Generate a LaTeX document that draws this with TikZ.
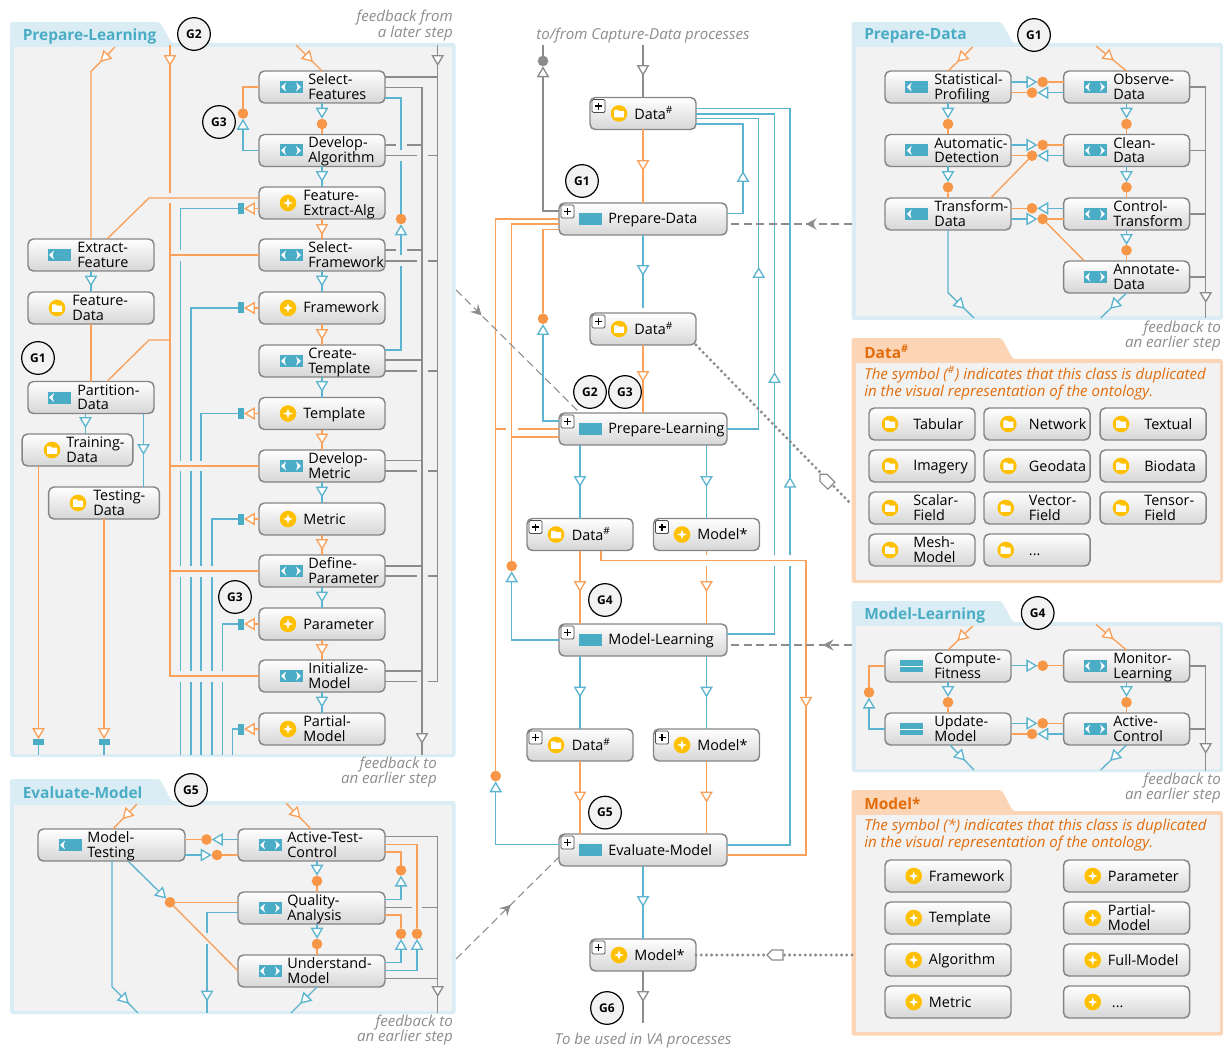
\documentclass[tikz,border=0pt]{standalone}
\usepackage{fontspec}
\setmainfont{Open Sans}
\usetikzlibrary{arrows.meta,decorations.markings}

\definecolor{flowblue}{HTML}{5CB4CE}
\definecolor{iconblue}{HTML}{4BACC6}
\definecolor{floworange}{HTML}{F9A05A}
\definecolor{dotorange}{HTML}{F79646}
\definecolor{flowgray}{HTML}{8C8C8C}
\definecolor{boxedge}{HTML}{858585}
\definecolor{boxlow}{HTML}{D6D6D6}
\definecolor{panelfill}{HTML}{F2F2F2}
\definecolor{edgeblue}{HTML}{DAEDF4}
\definecolor{edgeorange}{HTML}{FBD5B5}
\definecolor{titleorange}{HTML}{E36C0A}
\definecolor{iconyellow}{HTML}{FFC000}

\tikzset{
  tipmark/.tip={Triangle[length=8.2pt,width=9.4pt,fill=white]},
  barbmark/.tip={Stealth[length=8pt,width=8.5pt,inset=3pt]},
  blueflow/.style={draw=flowblue,line width=1pt},
  oranflow/.style={draw=floworange,line width=1pt},
  grayflow/.style={draw=flowgray,line width=1pt},
  dashflow/.style={draw=flowgray,line width=1pt,dash pattern=on 6pt off 3.4pt},
  dotflow/.style={draw=flowgray,line width=2.5pt,line cap=round,dash pattern=on 0pt off 3.9pt},
  headat/.style={postaction={decorate,decoration={markings,
    mark=at position #1*0.75pt with {\arrow{tipmark}}}}},
  barbat/.style={postaction={decorate,decoration={markings,
    mark=at position #1*0.75pt with {\arrow[line width=1pt]{barbmark}}}}},
  taskbox/.style={draw=boxedge,line width=1.1pt,rounded corners=4pt,top color=white,
    bottom color=boxlow,minimum width=94.5pt,minimum height=24pt,inner sep=0pt,outer sep=0pt},
  widebox/.style={taskbox,minimum width=110.25pt},
  shortbox/.style={taskbox,minimum width=83pt},
  databox/.style={taskbox,minimum width=79.5pt},
  hubbox/.style={taskbox,minimum width=126pt},
  tasktext/.style={anchor=west,align=left,inner sep=0pt,font=\fontsize{10.8pt}{11.2pt}\selectfont},
  notetext/.style={anchor=east,align=right,inner sep=0pt,text=flowgray,
    font=\fontsize{11.3pt}{11.6pt}\selectfont\itshape},
  paneltitle/.style={anchor=west,inner sep=0pt,font=\fontsize{11.6pt}{13pt}\selectfont\bfseries},
  symboltext/.style={anchor=west,align=left,inner sep=0pt,text=titleorange,
    font=\fontsize{11.3pt}{12.6pt}\selectfont\itshape},
  gmark/.style={circle,draw=black,line width=0.9pt,fill=panelfill,minimum size=24.5pt,
    inner sep=0pt,font=\fontsize{9pt}{10pt}\selectfont\bfseries},
  dotor/.style={circle,fill=dotorange,minimum size=8pt,inner sep=0pt,outer sep=0pt},
  dotgy/.style={circle,fill=flowgray,minimum size=8pt,inner sep=0pt,outer sep=0pt},
  sqtall/.style={fill=iconblue,minimum width=4.5pt,minimum height=8.25pt,inner sep=0pt,outer sep=0pt},
  sqflat/.style={fill=iconblue,minimum width=8.25pt,minimum height=4.5pt,inner sep=0pt,outer sep=0pt},
  eyeicon/.pic={
    \fill[iconblue] (-11.5,-6) rectangle (11.5,6);
    \fill[white] (-10,0) -- (-5,-4.5) -- (-6.5,0) -- (-5,4.5) -- cycle;
    \fill[white] (10,0) -- (5,-4.5) -- (6.5,0) -- (5,4.5) -- cycle;
  },
  chevicon/.pic={
    \fill[iconblue] (-11.5,-6) rectangle (11.5,6);
    \fill[white] (-10,0) -- (-5,-4.5) -- (-6.5,0) -- (-5,4.5) -- cycle;
  },
  baricon/.pic={
    \fill[iconblue] (-11.5,-6) rectangle (11.5,6);
    \draw[white,line width=0.6pt] (-11.5,0) -- (11.5,0);
  },
  plainicon/.pic={
    \fill[iconblue] (-11.5,-6) rectangle (11.5,6);
  },
  dataicon/.pic={
    \fill[iconyellow] (0,0) circle (8.3);
    \fill[white] (-5,-3.6) -- (-1.2,-3.6) -- (0,-2.4) -- (5,-2.4) -- (5,3.8) -- (-5,3.8) -- cycle;
  },
  modelicon/.pic={
    \fill[iconyellow] (0,0) circle (8.3);
    \fill[white] (0,-4.8) -- (1.2,-1.2) -- (4.8,0) -- (1.2,1.2) -- (0,4.8) -- (-1.2,1.2) -- (-4.8,0) -- (-1.2,-1.2) -- cycle;
  },
  plusmark/.pic={
    \draw[draw=black!70,fill=white,line width=0.6pt,rounded corners=1pt] (-6.5,-6.5) rectangle (6.5,6.5);
    \draw[black,line width=0.9pt] (-3.5,0) -- (3.5,0) (0,-3.5) -- (0,3.5);
  },
  tagmark/.pic={
    \draw[draw=flowgray,fill=white,line width=0.9pt] (-8,0) -- (-3,-5) -- (8,-5) -- (8,5) -- (-3,5) -- cycle;
  },
}

\newcommand{\panelbox}[9]{
  \fill[#1,rounded corners=2pt] (#3,#4) -- (#3+150,#4) -- (#3+161.5,#5) -- (#6,#5) -- (#6,#7) -- (#3,#7) -- cycle;
  \fill[panelfill] (#3+4,#5+4) rectangle (#6-3.5,#7-3.5);
  \node[paneltitle,text=#2] (#8) at (#3+12.5,#4+14) {#9};
}
\newcommand{\taskat}[8]{
  \node[#1] (#2) at (#3,#4) {};
  \pic at (#6,#4) {#5};
  \node[tasktext] (#2-text) at (#7,#4+1) {\rule{0pt}{8.5pt}#8\rule[-2.5pt]{0pt}{2.5pt}};
}
\newcommand{\hubat}[8]{
  \taskat{#1}{#2}{#3}{#4}{#5}{#6}{#7}{#8}
  \pic at ([xshift=6.4pt,yshift=-6.4pt]#2.north west) {plusmark};
}
\newcommand{\sidelink}[5]{
  \node[dotor] (#1) at (#2,#3) {};
  \draw[blueflow,-{tipmark}] (#4 |- #1) -- (#1);
  \draw[oranflow] (#1) -- (#5 |- #1);
}
\newcommand{\downlink}[5]{
  \node[dotor] (#1) at (#2,#3) {};
  \draw[blueflow,-{tipmark}] (#4.south -| #1) -- (#1);
  \draw[oranflow] (#1) -- (#5.north -| #1);
}

\begin{document}
\begin{tikzpicture}[x=0.75pt,y=-0.75pt]
  \useasboundingbox (0,0) rectangle (1223,1048);

  \panelbox{edgeblue}{iconblue}{10}{22}{43}{455.6}{757}{pltitle}{Prepare-Learning}
  \panelbox{edgeblue}{iconblue}{10}{779}{801}{455.6}{1014}{emtitle}{Evaluate-Model}
  \panelbox{edgeblue}{iconblue}{851.5}{22}{43}{1223}{320}{pdtitle}{Prepare-Data}
  \panelbox{edgeblue}{iconblue}{851.5}{601}{622}{1223}{772}{mltitle}{Model-Learning}
  \panelbox{edgeorange}{titleorange}{851.5}{338}{359}{1223}{583}{dttitle}{Data\textsuperscript{\#}}
  \panelbox{edgeorange}{titleorange}{851.5}{790}{811}{1223}{1035.7}{mdtitle}{Model*}

  \taskat{taskbox}{sf}{322}{87}{eyeicon}{291}{308}{Select-\\Features}
  \taskat{taskbox}{da}{322}{150.5}{eyeicon}{291}{308}{Develop-\\Algorithm}
  \taskat{taskbox}{fea}{322}{203}{modelicon}{288}{303}{Feature-\\Extract-Alg}
  \taskat{taskbox}{sfw}{322}{255}{eyeicon}{291}{308}{Select-\\Framework}
  \taskat{taskbox}{fw}{322}{308}{modelicon}{288}{303}{Framework}
  \taskat{taskbox}{ct}{322}{361}{eyeicon}{291}{308}{Create-\\Template}
  \taskat{taskbox}{tpl}{322}{413.5}{modelicon}{288}{303}{Template}
  \taskat{taskbox}{dm}{322}{466}{eyeicon}{291}{308}{Develop-\\Metric}
  \taskat{taskbox}{met}{322}{519}{modelicon}{288}{303}{Metric}
  \taskat{taskbox}{dp}{322}{571}{eyeicon}{291}{308}{Define-\\Parameter}
  \taskat{taskbox}{par}{322}{624}{modelicon}{288}{303}{Parameter}
  \taskat{taskbox}{im}{322}{676}{eyeicon}{291}{308}{Initialize-\\Model}
  \taskat{taskbox}{pm}{322}{729}{modelicon}{288}{303}{Partial-\\Model}
  \taskat{taskbox}{ef}{91}{255}{chevicon}{59}{77}{Extract-\\Feature}
  \taskat{taskbox}{fd}{91}{308}{dataicon}{57}{72}{Feature-\\Data}
  \taskat{taskbox}{pard}{91}{397.5}{chevicon}{59}{77}{Partition-\\Data}
  \taskat{shortbox}{trd}{77.5}{450}{dataicon}{52}{66}{Training-\\Data}
  \taskat{shortbox}{ted}{104}{503}{dataicon}{78}{93}{Testing-\\Data}

  \taskat{widebox}{mt}{111.5}{845}{chevicon}{70}{87}{Model-\\Testing}
  \taskat{widebox}{atc}{311.5}{845}{eyeicon}{270}{287}{Active-Test-\\Control}
  \taskat{widebox}{qa}{311.5}{908}{eyeicon}{270}{287}{Quality-\\Analysis}
  \taskat{widebox}{um}{311.5}{971}{eyeicon}{270}{287}{Understand-\\Model}

  \hubat{databox}{cd}{643}{113.5}{dataicon}{619}{634}{Data\textsuperscript{\#}}
  \hubat{hubbox}{hpd}{643}{219}{plainicon}{590.7}{608}{Prepare-Data}
  \hubat{databox}{cdm}{643}{329}{dataicon}{619}{634}{Data\textsuperscript{\#}}
  \hubat{hubbox}{hpl}{643}{429}{plainicon}{590.7}{608}{Prepare-Learning}
  \hubat{databox}{cdl}{580}{534.5}{dataicon}{556}{571.5}{Data\textsuperscript{\#}}
  \hubat{databox}{cml}{706.5}{534.5}{modelicon}{682}{697}{Model*}
  \hubat{hubbox}{hml}{643}{640}{plainicon}{590.7}{608}{Model-Learning}
  \hubat{databox}{cdt}{580}{745}{dataicon}{556}{571.5}{Data\textsuperscript{\#}}
  \hubat{databox}{cmt}{706.5}{745}{modelicon}{682}{697}{Model*}
  \hubat{hubbox}{hem}{643}{850}{plainicon}{590.7}{608}{Evaluate-Model}
  \hubat{databox}{cmf}{643}{955}{modelicon}{619}{634}{Model*}

  \taskat{taskbox}{spf}{948}{87}{chevicon}{916.7}{934}{Statistical-\\Profiling}
  \taskat{taskbox}{adt}{948}{150.5}{chevicon}{916.7}{934}{Automatic-\\Detection}
  \taskat{taskbox}{tfd}{948}{214}{chevicon}{916.7}{934}{Transform-\\Data}
  \taskat{taskbox}{odd}{1126.5}{87}{eyeicon}{1095}{1113}{Observe-\\Data}
  \taskat{taskbox}{cld}{1126.5}{150.5}{eyeicon}{1095}{1113}{Clean-\\Data}
  \taskat{taskbox}{ctl}{1126.5}{214}{eyeicon}{1095}{1113}{Control-\\Transform}
  \taskat{taskbox}{ann}{1126.5}{277}{eyeicon}{1095}{1113}{Annotate-\\Data}

  \taskat{taskbox}{cf}{948}{666}{baricon}{911}{934}{Compute-\\Fitness}
  \taskat{taskbox}{upd}{948}{729}{baricon}{911}{934}{Update-\\Model}
  \taskat{taskbox}{mol}{1126.5}{666}{eyeicon}{1095}{1113}{Monitor-\\Learning}
  \taskat{taskbox}{acl}{1126.5}{729}{eyeicon}{1095}{1113}{Active-\\Control}

  \taskat{databox}{dtab}{922}{424}{dataicon}{890}{913}{Tabular}
  \taskat{databox}{dnet}{1037}{424}{dataicon}{1008.3}{1028.7}{Network}
  \taskat{databox}{dtex}{1153}{424}{dataicon}{1121}{1144}{Textual}
  \taskat{databox}{dima}{922}{466}{dataicon}{890}{913}{Imagery}
  \taskat{databox}{dgeo}{1037}{466}{dataicon}{1008.3}{1028.7}{Geodata}
  \taskat{databox}{dbio}{1153}{466}{dataicon}{1121}{1144}{Biodata}
  \taskat{databox}{dsca}{922}{508}{dataicon}{890}{913}{Scalar-\\Field}
  \taskat{databox}{dvec}{1037}{508}{dataicon}{1005.7}{1028.7}{Vector-\\Field}
  \taskat{databox}{dten}{1153}{508}{dataicon}{1121}{1144}{Tensor-\\Field}
  \taskat{databox}{dmes}{922}{550}{dataicon}{890}{913}{Mesh-\\Model}
  \taskat{databox}{dmore}{1037}{550}{dataicon}{1005.7}{1028.7}{...}

  \taskat{taskbox}{mfra}{948}{876}{modelicon}{913.7}{928.7}{Framework}
  \taskat{taskbox}{mtem}{948}{918}{modelicon}{913.7}{928.7}{Template}
  \taskat{taskbox}{malg}{948}{960}{modelicon}{913.7}{928.7}{Algorithm}
  \taskat{taskbox}{mmet}{948}{1002}{modelicon}{913.7}{928.7}{Metric}
  \taskat{taskbox}{mpar}{1126.5}{876}{modelicon}{1092.7}{1107.7}{Parameter}
  \taskat{taskbox}{mpmo}{1126.5}{918}{modelicon}{1092.7}{1107.7}{Partial-\\Model}
  \taskat{taskbox}{mful}{1126.5}{960}{modelicon}{1092.7}{1107.7}{Full-Model}
  \taskat{taskbox}{mmore}{1126.5}{1002}{modelicon}{1092.7}{1111.7}{...}

  \node[symboltext] (dtnote) at (864,383) {The symbol (\textsuperscript{\#}) indicates that this class is duplicated\\in the visual representation of the ontology.};
  \node[symboltext] (mdnote) at (864,835) {The symbol (*) indicates that this class is duplicated\\in the visual representation of the ontology.};
  \node[notetext] (fbfrom) at (453,25.5) {feedback from\\a later step};
  \node[notetext] (fbpl) at (437,772) {feedback to\\an earlier step};
  \node[notetext] (fbem) at (453,1030) {feedback to\\an earlier step};
  \node[notetext] (fbpd) at (1221,336) {feedback to\\an earlier step};
  \node[notetext] (fbml) at (1221,788) {feedback to\\an earlier step};
  \node[notetext,anchor=center,align=center] (capnote) at (643,35.5) {to/from Capture-Data processes};
  \node[notetext,anchor=center,align=center] (vanote) at (643,1040.5) {To be used in VA processes};

  \coordinate (plinl) at (115,47);
  \coordinate (plinr) at (296,45);
  \coordinate (pltrunk) at (170,45);
  \coordinate (plfb) at (437.7,45);
  \coordinate (plout) at (422,755);
  \draw[oranflow,headat=21] (plinl) -- (ef.north |- 0,71.5) -- (ef.north);
  \draw[oranflow,headat=24] (plinr) -- (sf.north);
  \draw[oranflow,headat=21] (pltrunk) -- (170,193);
  \draw[oranflow] (170,203) |- (im.west);
  \draw[oranflow] (sfw.west -| pltrunk) -- (sfw.west);
  \draw[oranflow] (dm.west -| pltrunk) -- (dm.west);
  \draw[oranflow] (dp.west -| pltrunk) -- (dp.west);
  \draw[oranflow] (fea.west |- 0,198) -- (149,198) -- (ef.north -| 107,0);
  \draw[oranflow] (pard.north -| 107,0) -- (149,340) -- (pltrunk |- 0,340);
  \draw[oranflow] (fd.south) -- (fd.south |- pard.north);
  \draw[blueflow,headat=15.5] (ef.south) -- (fd.north);
  \draw[blueflow,headat=14.5] (pard.south -| 85.5,0) -- (trd.north -| 85.5,0);
  \draw[blueflow,headat=41.5] (pard.south -| 143.5,0) -- (ted.north -| 143.5,0);

  \node[sqflat] (trq) at (38.5,742) {};
  \node[sqflat] (teq) at (104,742) {};
  \draw[oranflow,-{tipmark}] (trd.south -| trq) -- (trq);
  \draw[oranflow,-{tipmark}] (ted.south -| teq) -- (teq);
  \draw[blueflow] (trq) -- (38.5,755);
  \draw[blueflow] (teq) -- (104,755);

  \node[dotor] (sfdot) at (243,113.5) {};
  \draw[blueflow,-{tipmark}] (da.west) -| (sfdot);
  \draw[oranflow] (sfdot) |- (sf.west);
  \downlink{sfda}{322}{124}{sf}{da}
  \draw[blueflow,headat=15.5] (da.south) -- (fea.north);
  \draw[oranflow,headat=16] (fea.south) -- (sfw.north);
  \draw[blueflow,headat=15.5] (sfw.south) -- (fw.north);
  \draw[oranflow,headat=16] (fw.south) -- (ct.north);
  \draw[blueflow,headat=15] (ct.south) -- (tpl.north);
  \draw[oranflow,headat=15] (tpl.south) -- (dm.north);
  \draw[blueflow,headat=15.5] (dm.south) -- (met.north);
  \draw[oranflow,headat=15] (met.south) -- (dp.north);
  \draw[blueflow,headat=15.5] (dp.south) -- (par.north);
  \draw[oranflow,headat=15] (par.south) -- (im.north);
  \draw[blueflow,headat=15.5] (im.south) -- (pm.north);

  \node[sqtall] (feaq) at (241,208.5) {};
  \node[sqtall] (fwq) at (241,308) {};
  \node[sqtall] (tpq) at (241,413.5) {};
  \node[sqtall] (meq) at (241,519) {};
  \node[sqtall] (paq) at (241,624) {};
  \node[sqtall] (pmq) at (241,729) {};
  \draw[oranflow,-{tipmark}] (fea.west |- feaq) -- (feaq);
  \draw[oranflow,-{tipmark}] (fw.west) -- (fwq);
  \draw[oranflow,-{tipmark}] (tpl.west) -- (tpq);
  \draw[oranflow,-{tipmark}] (met.west) -- (meq);
  \draw[oranflow,-{tipmark}] (par.west) -- (paq);
  \draw[oranflow,-{tipmark}] (pm.west) -- (pmq);
  \draw[blueflow] (feaq) -| (180.5,250) (180.5,261) -- (180.5,460.7) (180.5,471) -- (180.5,566) (180.5,577) -- (180.5,671) (180.5,682) -- (180.5,755);
  \draw[blueflow] (fwq) -| (191,460.7) (191,471) -- (191,566) (191,577) -- (191,671) (191,682) -- (191,755);
  \draw[blueflow] (tpq) -| (201,460.7) (201,471) -- (201,566) (201,577) -- (201,671) (201,682) -- (201,755);
  \draw[blueflow] (meq) -| (212,566) (212,577) -- (212,671) (212,682) -- (212,755);
  \draw[blueflow] (paq) -| (222.5,671) (222.5,682) -- (222.5,755);
  \draw[blueflow] (pmq) -| (232.5,755);

  \node[dotor] (ctdot) at (401,219) {};
  \draw[blueflow] (sf.east |- 0,98) -| (401,150);
  \draw[blueflow] (401,161) -- (ctdot);
  \draw[blueflow] (ct.east |- 0,350) -| (401,266.5);
  \draw[blueflow,-{tipmark}] (401,255.5) -- (ctdot);

  \draw[grayflow,headat=21] (plfb) |- (428,681.5);
  \draw[grayflow] (sf.east |- 0,77) -- (437.7,77);
  \draw[grayflow,headat=-11] (sf.east |- 0,87.5) -| (plout);
  \draw[grayflow] (da.east |- 0,145) -- (396,145) (407,145) -- (422,145);
  \draw[grayflow] (da.east |- 0,155.7) -- (417,155.7) (428,155.7) -- (437.7,155.7);
  \draw[grayflow] (sfw.east |- 0,250) -- (396,250) (407,250) -- (422,250);
  \draw[grayflow] (sfw.east |- 0,261) -- (417,261) (428,261) -- (437.7,261);
  \draw[grayflow] (ct.east |- 0,360) -- (422,360);
  \draw[grayflow] (ct.east |- 0,371) -- (417,371) (428,371) -- (437.7,371);
  \draw[grayflow] (dm.east |- 0,460.7) -- (422,460.7);
  \draw[grayflow] (dm.east |- 0,471) -- (417,471) (428,471) -- (437.7,471);
  \draw[grayflow] (dp.east |- 0,566) -- (422,566);
  \draw[grayflow] (dp.east |- 0,576) -- (417,576) (428,576) -- (437.7,576);
  \draw[grayflow] (im.east |- 0,671) -- (422,671);
  \draw[grayflow] (im.east |- 0,681.5) -- (417,681.5);

  \coordinate (eminl) at (137,804);
  \coordinate (eminr) at (286,803);
  \coordinate (emoutl) at (138,1013);
  \coordinate (emoutm) at (207,1013);
  \coordinate (emoutr) at (291,1013);
  \coordinate (emfb) at (437.7,1013);
  \draw[oranflow,headat=21] (eminl) -- (mt.north -| 113,0);
  \draw[oranflow,headat=21] (eminr) -- (atc.north -| 311,0);
  \sidelink{emup}{206.5}{839.5}{atc.west}{mt.east}
  \sidelink{emlo}{217}{855}{mt.east}{atc.west}
  \downlink{atcqa}{317}{881}{atc}{qa}
  \downlink{qaum}{317}{944}{qa}{um}
  \draw[blueflow,headat=-13] (mt.south -| 112,0) -- (112,986.7) -- (emoutl);
  \draw[blueflow,headat=-13] (um.south -| 317,0) -- (emoutr);
  \node[dotor] (emfork) at (170,902.3) {};
  \draw[blueflow,-{tipmark}] (mt.south -| 128,0) -- (emfork);
  \draw[oranflow] (emfork) -- (qa.west |- emfork);
  \draw[oranflow] (emfork) -- (um.west);
  \draw[blueflow] (qa.west |- 0,912.7) -| (207,933);
  \draw[blueflow,headat=-11.5] (207,944) -- (emoutm);
  \node[dotor] (emra) at (401,870.3) {};
  \node[dotor] (emrb) at (401,933.7) {};
  \node[dotor] (emrc) at (417,933.7) {};
  \draw[oranflow] (atc.east |- 0,844.7) -| (emrc);
  \draw[oranflow] (atc.east |- 0,852) -| (emra);
  \draw[blueflow,-{tipmark}] (qa.east |- 0,899.3) -| (emra);
  \draw[oranflow] (qa.east |- 0,915) -| (emrb);
  \draw[blueflow,-{tipmark}] (um.east |- 0,962.3) -| (emrb);
  \draw[blueflow,-{tipmark}] (um.east |- 0,970.3) -| (emrc);
  \draw[grayflow,headat=-16] (atc.east |- 0,836.7) -| (emfb);
  \draw[grayflow] (um.east |- 0,978.3) -- (emfb |- 0,978.3);
  \draw[grayflow] (qa.east |- 0,907.3) -- (412,907.3) (422,907.3) -- (437.7,907.3);

  \coordinate (cdin) at (643,45);
  \coordinate (cdout) at (543,45);
  \coordinate (vaout) at (643,1023);
  \coordinate (plport) at (456,290);
  \coordinate (emport) at (456,959);
  \coordinate (pdport) at (852,224);
  \coordinate (mlport) at (852,645);
  \coordinate (dtport) at (852,505);
  \coordinate (mdport) at (852,955);
  \draw[grayflow,headat=31] (cdin) -- (cd.north);
  \node[dotgy] (cddot) at (543,61) {};
  \draw[grayflow] (cddot) -- (cdout);
  \draw[grayflow,-{tipmark}] (hpd.west |- 0,211) -| (cddot);
  \draw[oranflow,headat=41.5] (cd.south) -- (hpd.north);
  \draw[blueflow,headat=58.5] (hpd.east |- 0,213.5) -- (743,213.5) -- (743,124) -- (cd.east |- 0,124);
  \draw[blueflow,headat=193.7] (hpl.east) -- (758.7,429) -- (758.7,118.5) -- (cd.east |- 0,118.5);
  \draw[blueflow] (hml.east |- 0,634) -| (774.5,566);
  \draw[blueflow,headat=183] (774.5,555) |- (cd.east |- 0,114);
  \draw[blueflow] (hem.east |- 0,845) -| (790,566);
  \draw[blueflow,headat=78.3] (790,555) |- (cd.east |- 0,108.5);
  \draw[blueflow,headat=41] (hpd.south) -- (cdm.north |- 0,308);
  \draw[oranflow,headat=37] (cdm.south) -- (hpl.north);

  \node[dotor] (pldot) at (543,318.7) {};
  \node[dotor] (mldot) at (511.7,566) {};
  \node[dotor] (emdot) at (495.7,776) {};
  \draw[oranflow] (hpd.west) -| (emdot);
  \draw[oranflow] (hpd.west |- 0,224) -| (mldot);
  \draw[oranflow] (hpd.west |- 0,229.5) -| (pldot);
  \draw[blueflow,-{tipmark}] (hpl.west |- 0,421) -| (pldot);
  \draw[oranflow] (hpl.west) -- (517.5,429) (505.7,429) -- (495.7,429);
  \draw[oranflow] (hpl.west |- 0,437) -- (511.7,437);
  \draw[blueflow,-{tipmark}] (hml.west) -| (mldot);
  \draw[blueflow,-{tipmark}] (hem.west |- 0,844.7) -| (emdot);

  \draw[blueflow,headat=42] (hpl.south -| cdl.north) -- (cdl.north);
  \draw[blueflow,headat=42] (hpl.south -| cml.north) -- (cml.north);
  \draw[oranflow,headat=41.5] (cdl.south) -- (hml.north -| cdl.south);
  \draw[oranflow] (cml.south) -- (cml.south |- 0,555);
  \draw[oranflow,headat=26] (cml.south |- 0,566) -- (hml.north -| cml.south);
  \draw[oranflow,headat=362.2] (cdl.south -| 601,0) -- (601,560.7) -- (806,560.7) -- (806,855) -- (hem.east |- 0,855);
  \draw[blueflow,headat=41.5] (hml.south -| cdt.north) -- (cdt.north);
  \draw[blueflow,headat=41.5] (hml.south -| cmt.north) -- (cmt.north);
  \draw[oranflow,headat=41.5] (cdt.south) -- (hem.north -| cdt.south);
  \draw[oranflow,headat=41.5] (cmt.south) -- (hem.north -| cmt.south);
  \draw[blueflow,headat=41] (hem.south) -- (cmf.north);
  \draw[grayflow,headat=31] (cmf.south) -- (vaout);

  \draw[dashflow,line width=0.8pt,barbat=36] (plport) -- (hpl.north -| 580,0);
  \draw[dashflow,line width=0.8pt,barbat=77] (emport) -- (hem.west |- 0,857);
  \draw[dashflow,barbat=46] (pdport) -- (hpd.east |- 0,224);
  \draw[dashflow,barbat=29] (mlport) -- (hml.east |- 0,645);
  \draw[dotflow] (cdm.south east) -- (dtport);
  \draw[dotflow] (cmf.east) -- (mdport);
  \pic[rotate=-45] at (825.7,480) {tagmark};
  \pic at (775,955) {tagmark};

  \coordinate (pdinl) at (972.7,47);
  \coordinate (pdinr) at (1096,46);
  \coordinate (pdoutl) at (974,318);
  \coordinate (pdoutr) at (1100.7,318);
  \coordinate (pdfb) at (1205.7,318);
  \draw[oranflow,headat=21.5] (pdinl) -- (spf.north);
  \draw[oranflow,headat=23] (pdinr) -- (odd.north);
  \sidelink{pda}{1042.7}{82}{spf.east}{odd.west}
  \sidelink{pdb}{1032}{92.7}{odd.west}{spf.east}
  \sidelink{pdc}{1042.7}{145}{adt.east}{cld.west}
  \sidelink{pdd}{1032}{155.7}{cld.west}{adt.east}
  \sidelink{pde}{1032}{208.3}{ctl.west}{tfd.east}
  \sidelink{pdf}{1042.7}{219}{tfd.east}{ctl.west}
  \draw[oranflow] (pdd) -- (tfd.north -| 990.7,0);
  \draw[oranflow] (pdf) -- (ann.north -| 1084.3,0);
  \downlink{spad}{948}{124}{spf}{adt}
  \downlink{adtf}{948}{187.3}{adt}{tfd}
  \downlink{odcl}{1126.5}{124}{odd}{cld}
  \downlink{clct}{1126.5}{187.3}{cld}{ctl}
  \downlink{ctan}{1126.5}{250.3}{ctl}{ann}
  \draw[blueflow,headat=-13] (tfd.south) -- (948,292.7) -- (pdoutl);
  \draw[blueflow,headat=-13] (ann.south) -- (pdoutr);
  \draw[grayflow,headat=-15] (odd.east) -| (pdfb);
  \draw[grayflow] (cld.east) -- (cld.east -| pdfb);
  \draw[grayflow] (ctl.east) -- (ctl.east -| pdfb);
  \draw[grayflow] (ann.east) -- (ann.east -| pdfb);

  \coordinate (mlinl) at (972.7,626);
  \coordinate (mlinr) at (1096,624.5);
  \coordinate (mloutl) at (974,770);
  \coordinate (mloutr) at (1100.7,770);
  \coordinate (mlfb) at (1205.7,771);
  \draw[oranflow,headat=21.5] (mlinl) -- (cf.north);
  \draw[oranflow,headat=23] (mlinr) -- (mol.north);
  \sidelink{mla}{1042.7}{665.7}{cf.east}{mol.west}
  \sidelink{mlb}{1042.7}{723.3}{upd.east}{acl.west}
  \sidelink{mlc}{1032}{734}{acl.west}{upd.east}
  \downlink{cfup}{948}{702.3}{cf}{upd}
  \downlink{moac}{1126.5}{702.3}{mol}{acl}
  \node[dotor] (cfdot) at (869,692.3) {};
  \draw[blueflow,-{tipmark}] (upd.west) -| (cfdot);
  \draw[oranflow] (cfdot) |- (cf.west);
  \draw[blueflow,headat=-13] (upd.south -| 950,0) -- (mloutl);
  \draw[blueflow,headat=-13] (acl.south) -- (mloutr);
  \draw[grayflow,headat=-17] (mol.east) -| (mlfb);
  \draw[grayflow] (acl.east) -- (acl.east -| mlfb);

  \node[gmark] (gplb) at (194,34) {G2};
  \node[gmark] (gplc) at (219,122) {G3};
  \node[gmark] (gpla) at (38,358) {G1};
  \node[gmark] (gpld) at (235,597) {G3};
  \node[gmark] (gema) at (191,790) {G5};
  \node[gmark] (ghpd) at (582,181) {G1};
  \node[gmark] (ghpl) at (590,392) {G2};
  \node[gmark] (ghpm) at (625,392) {G3};
  \node[gmark] (ghml) at (605,600) {G4};
  \node[gmark] (ghem) at (605,812.6) {G5};
  \node[gmark] (gout) at (607,1008) {G6};
  \node[gmark] (gpda) at (1034,35) {G1};
  \node[gmark] (gmla) at (1037.7,613) {G4};
\end{tikzpicture}
\end{document}
